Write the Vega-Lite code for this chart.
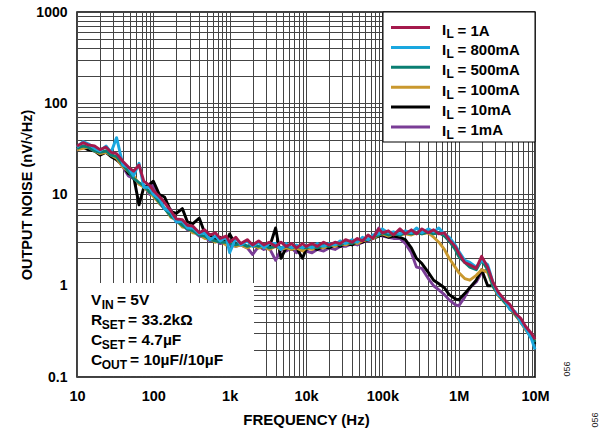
{
"$schema":"https://vega.github.io/schema/vega-lite/v6.json",
"width":458,"height":365,
"autosize":{"type":"none"},
"padding":{"left":77,"top":12,"right":73,"bottom":57},
"background":"white",
"config":{
 "view":{"stroke":"#000","strokeWidth":1.5},
 "font":"Liberation Sans",
 "legend":{"title":null,"padding":0,"symbolType":"M-4,-0.62H4","symbolSize":95,"symbolStrokeWidth":3,"labelFont":"Liberation Sans","labelFontSize":15,"labelFontWeight":"bold","labelColor":"#000","labelOffset":39.6,"rowPadding":1.9,"labelLimit":300}
},
"layer":[
 {"data":{"values":[{}]},"mark":{"type":"rect","fill":"white"},
  "encoding":{"x":{"datum":10.3,"type":"quantitative","scale":{"type":"log"},"axis":{"title":"FREQUENCY (Hz)"}},"x2":{"datum":2085},"y":{"datum":0.1026,"type":"quantitative","scale":{"type":"log"},"axis":{"title":"OUTPUT NOISE (nV/√Hz)"}},"y2":{"datum":1.07}}},
 {"data":{"values":[{}]},"mark":{"type":"rect","fill":"white","stroke":"#000","strokeWidth":1},
  "encoding":{"x":{"datum":102000,"type":"quantitative","scale":{"type":"log"},"axis":{"title":"FREQUENCY (Hz)"}},"x2":{"datum":10000000},"y":{"datum":37.6,"type":"quantitative","scale":{"type":"log"},"axis":{"title":"OUTPUT NOISE (nV/√Hz)"}},"y2":{"datum":1000}}},
 {"data":{"values":[
{"s":"1mA","f":10,"n":31},{"s":"1mA","f":12,"n":34},{"s":"1mA","f":14,"n":32},{"s":"1mA","f":17,"n":31},{"s":"1mA","f":20,"n":28},{"s":"1mA","f":24,"n":30},{"s":"1mA","f":28,"n":27},{"s":"1mA","f":33,"n":25},{"s":"1mA","f":40,"n":20},{"s":"1mA","f":47,"n":16},{"s":"1mA","f":55,"n":15},{"s":"1mA","f":65,"n":13},{"s":"1mA","f":75,"n":12.5},{"s":"1mA","f":90,"n":10},
{"s":"1mA","f":100,"n":13.5},{"s":"1mA","f":120,"n":8},{"s":"1mA","f":140,"n":7},{"s":"1mA","f":170,"n":6.8},{"s":"1mA","f":200,"n":5},{"s":"1mA","f":240,"n":4.7},{"s":"1mA","f":280,"n":4.1},{"s":"1mA","f":330,"n":4},{"s":"1mA","f":400,"n":3.5},{"s":"1mA","f":470,"n":3.4},{"s":"1mA","f":550,"n":3.1},{"s":"1mA","f":650,"n":3.2},{"s":"1mA","f":750,"n":2.9},{"s":"1mA","f":900,"n":3},
{"s":"1mA","f":1000,"n":2.8},{"s":"1mA","f":1200,"n":2.7},{"s":"1mA","f":1400,"n":2.8},{"s":"1mA","f":1700,"n":2.6},{"s":"1mA","f":2000,"n":2.2},{"s":"1mA","f":2400,"n":2.7},{"s":"1mA","f":2800,"n":2.5},{"s":"1mA","f":3300,"n":2.6},{"s":"1mA","f":4000,"n":1.9},{"s":"1mA","f":4700,"n":2.5},{"s":"1mA","f":5500,"n":2.4},{"s":"1mA","f":6500,"n":2.6},{"s":"1mA","f":7500,"n":2.3},{"s":"1mA","f":9000,"n":2.5},
{"s":"1mA","f":10000,"n":2.4},{"s":"1mA","f":12000,"n":2.3},{"s":"1mA","f":14000,"n":2.5},{"s":"1mA","f":17000,"n":2.4},{"s":"1mA","f":20000,"n":2.6},{"s":"1mA","f":24000,"n":2.5},{"s":"1mA","f":28000,"n":2.7},{"s":"1mA","f":33000,"n":2.7},{"s":"1mA","f":40000,"n":2.9},{"s":"1mA","f":47000,"n":2.8},{"s":"1mA","f":55000,"n":3},{"s":"1mA","f":65000,"n":3.1},{"s":"1mA","f":75000,"n":3.3},{"s":"1mA","f":90000,"n":4.3},
{"s":"1mA","f":100000,"n":3.5},{"s":"1mA","f":120000,"n":3.4},{"s":"1mA","f":140000,"n":3.3},{"s":"1mA","f":170000,"n":3.3},{"s":"1mA","f":200000,"n":2.9},{"s":"1mA","f":240000,"n":2.3},{"s":"1mA","f":280000,"n":1.6},{"s":"1mA","f":330000,"n":1.55},{"s":"1mA","f":400000,"n":1.2},{"s":"1mA","f":470000,"n":1},{"s":"1mA","f":550000,"n":0.9},{"s":"1mA","f":650000,"n":0.8},{"s":"1mA","f":750000,"n":0.7},{"s":"1mA","f":900000,"n":0.62},
{"s":"1mA","f":1000000,"n":0.6},{"s":"1mA","f":1200000,"n":0.75},{"s":"1mA","f":1400000,"n":0.95},{"s":"1mA","f":1700000,"n":1.1},{"s":"1mA","f":2000000,"n":1.4},{"s":"1mA","f":2400000,"n":1.5},{"s":"1mA","f":2800000,"n":1.05},{"s":"1mA","f":3300000,"n":0.82},{"s":"1mA","f":4000000,"n":0.67},{"s":"1mA","f":4700000,"n":0.57},{"s":"1mA","f":5500000,"n":0.48},{"s":"1mA","f":6500000,"n":0.41},{"s":"1mA","f":7500000,"n":0.34},{"s":"1mA","f":9000000,"n":0.27},{"s":"1mA","f":10000000,"n":0.24},
{"s":"10mA","f":10,"n":32},{"s":"10mA","f":12,"n":33},{"s":"10mA","f":14,"n":31},{"s":"10mA","f":17,"n":30},{"s":"10mA","f":20,"n":27},{"s":"10mA","f":24,"n":29},{"s":"10mA","f":28,"n":26},{"s":"10mA","f":33,"n":24},{"s":"10mA","f":40,"n":21},{"s":"10mA","f":47,"n":17},{"s":"10mA","f":55,"n":16},{"s":"10mA","f":65,"n":7.7},{"s":"10mA","f":75,"n":12},{"s":"10mA","f":90,"n":13},
{"s":"10mA","f":100,"n":14},{"s":"10mA","f":120,"n":10},{"s":"10mA","f":140,"n":9.4},{"s":"10mA","f":170,"n":6.5},{"s":"10mA","f":200,"n":6.2},{"s":"10mA","f":240,"n":7},{"s":"10mA","f":280,"n":5},{"s":"10mA","f":330,"n":4.8},{"s":"10mA","f":400,"n":5.5},{"s":"10mA","f":470,"n":3.8},{"s":"10mA","f":550,"n":3.6},{"s":"10mA","f":650,"n":3.2},{"s":"10mA","f":750,"n":3.4},{"s":"10mA","f":900,"n":3},
{"s":"10mA","f":1000,"n":3.7},{"s":"10mA","f":1200,"n":2.8},{"s":"10mA","f":1400,"n":2.9},{"s":"10mA","f":1700,"n":2.7},{"s":"10mA","f":2000,"n":2.8},{"s":"10mA","f":2400,"n":2.6},{"s":"10mA","f":2800,"n":2.7},{"s":"10mA","f":3300,"n":2.6},{"s":"10mA","f":4000,"n":4.3},{"s":"10mA","f":4700,"n":2},{"s":"10mA","f":5500,"n":2.6},{"s":"10mA","f":6500,"n":2.5},{"s":"10mA","f":7500,"n":2.6},{"s":"10mA","f":9000,"n":2},
{"s":"10mA","f":10000,"n":2.5},{"s":"10mA","f":12000,"n":2.6},{"s":"10mA","f":14000,"n":2.5},{"s":"10mA","f":17000,"n":2.7},{"s":"10mA","f":20000,"n":2.6},{"s":"10mA","f":24000,"n":2.8},{"s":"10mA","f":28000,"n":2.7},{"s":"10mA","f":33000,"n":2.9},{"s":"10mA","f":40000,"n":2.8},{"s":"10mA","f":47000,"n":3},{"s":"10mA","f":55000,"n":3},{"s":"10mA","f":65000,"n":3.2},{"s":"10mA","f":75000,"n":3.3},{"s":"10mA","f":90000,"n":3.5},
{"s":"10mA","f":100000,"n":3.6},{"s":"10mA","f":120000,"n":3.4},{"s":"10mA","f":140000,"n":3.5},{"s":"10mA","f":170000,"n":3.4},{"s":"10mA","f":200000,"n":3.2},{"s":"10mA","f":240000,"n":2.6},{"s":"10mA","f":280000,"n":2},{"s":"10mA","f":330000,"n":1.75},{"s":"10mA","f":400000,"n":1.4},{"s":"10mA","f":470000,"n":1.15},{"s":"10mA","f":550000,"n":1.05},{"s":"10mA","f":650000,"n":0.95},{"s":"10mA","f":750000,"n":0.8},{"s":"10mA","f":900000,"n":0.72},
{"s":"10mA","f":1000000,"n":0.7},{"s":"10mA","f":1200000,"n":0.82},{"s":"10mA","f":1400000,"n":0.95},{"s":"10mA","f":1700000,"n":1.15},{"s":"10mA","f":2000000,"n":1.5},{"s":"10mA","f":2400000,"n":1},{"s":"10mA","f":2800000,"n":1},{"s":"10mA","f":3300000,"n":0.8},{"s":"10mA","f":4000000,"n":0.68},{"s":"10mA","f":4700000,"n":0.56},{"s":"10mA","f":5500000,"n":0.49},{"s":"10mA","f":6500000,"n":0.4},{"s":"10mA","f":7500000,"n":0.34},{"s":"10mA","f":9000000,"n":0.27},{"s":"10mA","f":10000000,"n":0.23},
{"s":"100mA","f":10,"n":31},{"s":"100mA","f":12,"n":32},{"s":"100mA","f":14,"n":33},{"s":"100mA","f":17,"n":30},{"s":"100mA","f":20,"n":28},{"s":"100mA","f":24,"n":29},{"s":"100mA","f":28,"n":27},{"s":"100mA","f":33,"n":25},{"s":"100mA","f":40,"n":20},{"s":"100mA","f":47,"n":18},{"s":"100mA","f":55,"n":16},{"s":"100mA","f":65,"n":13},{"s":"100mA","f":75,"n":12},{"s":"100mA","f":90,"n":10.5},
{"s":"100mA","f":100,"n":9.5},{"s":"100mA","f":120,"n":8},{"s":"100mA","f":140,"n":7.2},{"s":"100mA","f":170,"n":5.6},{"s":"100mA","f":200,"n":5.3},{"s":"100mA","f":240,"n":4.4},{"s":"100mA","f":280,"n":4.3},{"s":"100mA","f":330,"n":3.8},{"s":"100mA","f":400,"n":3.7},{"s":"100mA","f":470,"n":3.3},{"s":"100mA","f":550,"n":3.3},{"s":"100mA","f":650,"n":3},{"s":"100mA","f":750,"n":3.1},{"s":"100mA","f":900,"n":2.8},
{"s":"100mA","f":1000,"n":3},{"s":"100mA","f":1200,"n":2.7},{"s":"100mA","f":1400,"n":2.8},{"s":"100mA","f":1700,"n":2.6},{"s":"100mA","f":2000,"n":2.8},{"s":"100mA","f":2400,"n":2.6},{"s":"100mA","f":2800,"n":2.7},{"s":"100mA","f":3300,"n":2.5},{"s":"100mA","f":4000,"n":2.7},{"s":"100mA","f":4700,"n":2.5},{"s":"100mA","f":5500,"n":2.6},{"s":"100mA","f":6500,"n":2.5},{"s":"100mA","f":7500,"n":2.6},{"s":"100mA","f":9000,"n":2.4},
{"s":"100mA","f":10000,"n":2.6},{"s":"100mA","f":12000,"n":2.5},{"s":"100mA","f":14000,"n":2.7},{"s":"100mA","f":17000,"n":2.6},{"s":"100mA","f":20000,"n":2.8},{"s":"100mA","f":24000,"n":2.7},{"s":"100mA","f":28000,"n":2.9},{"s":"100mA","f":33000,"n":2.8},{"s":"100mA","f":40000,"n":3},{"s":"100mA","f":47000,"n":2.9},{"s":"100mA","f":55000,"n":3.1},{"s":"100mA","f":65000,"n":3.2},{"s":"100mA","f":75000,"n":3.3},{"s":"100mA","f":90000,"n":3.6},
{"s":"100mA","f":100000,"n":3.7},{"s":"100mA","f":120000,"n":3.5},{"s":"100mA","f":140000,"n":3.7},{"s":"100mA","f":170000,"n":3.6},{"s":"100mA","f":200000,"n":3.7},{"s":"100mA","f":240000,"n":3.6},{"s":"100mA","f":280000,"n":3.8},{"s":"100mA","f":330000,"n":3.7},{"s":"100mA","f":400000,"n":3.8},{"s":"100mA","f":470000,"n":3.4},{"s":"100mA","f":550000,"n":3},{"s":"100mA","f":650000,"n":2.5},{"s":"100mA","f":750000,"n":2},{"s":"100mA","f":900000,"n":1.6},
{"s":"100mA","f":1000000,"n":1.4},{"s":"100mA","f":1200000,"n":1.2},{"s":"100mA","f":1400000,"n":1.15},{"s":"100mA","f":1700000,"n":1.3},{"s":"100mA","f":2000000,"n":1.5},{"s":"100mA","f":2400000,"n":1.4},{"s":"100mA","f":2800000,"n":1},{"s":"100mA","f":3300000,"n":0.78},{"s":"100mA","f":4000000,"n":0.66},{"s":"100mA","f":4700000,"n":0.56},{"s":"100mA","f":5500000,"n":0.48},{"s":"100mA","f":6500000,"n":0.4},{"s":"100mA","f":7500000,"n":0.33},{"s":"100mA","f":9000000,"n":0.27},{"s":"100mA","f":10000000,"n":0.25},
{"s":"500mA","f":10,"n":32},{"s":"500mA","f":12,"n":34},{"s":"500mA","f":14,"n":33},{"s":"500mA","f":17,"n":30},{"s":"500mA","f":20,"n":29},{"s":"500mA","f":24,"n":30},{"s":"500mA","f":28,"n":27},{"s":"500mA","f":33,"n":26},{"s":"500mA","f":40,"n":21},{"s":"500mA","f":47,"n":18},{"s":"500mA","f":55,"n":15},{"s":"500mA","f":65,"n":13.5},{"s":"500mA","f":75,"n":12.5},{"s":"500mA","f":90,"n":10.5},
{"s":"500mA","f":100,"n":10},{"s":"500mA","f":120,"n":8.2},{"s":"500mA","f":140,"n":7},{"s":"500mA","f":170,"n":5.8},{"s":"500mA","f":200,"n":5.2},{"s":"500mA","f":240,"n":4.6},{"s":"500mA","f":280,"n":4.2},{"s":"500mA","f":330,"n":4},{"s":"500mA","f":400,"n":3.6},{"s":"500mA","f":470,"n":3.5},{"s":"500mA","f":550,"n":3.2},{"s":"500mA","f":650,"n":3.1},{"s":"500mA","f":750,"n":3},{"s":"500mA","f":900,"n":3},
{"s":"500mA","f":1000,"n":2.9},{"s":"500mA","f":1200,"n":2.8},{"s":"500mA","f":1400,"n":2.9},{"s":"500mA","f":1700,"n":2.7},{"s":"500mA","f":2000,"n":2.8},{"s":"500mA","f":2400,"n":2.7},{"s":"500mA","f":2800,"n":2.8},{"s":"500mA","f":3300,"n":2.6},{"s":"500mA","f":4000,"n":2.7},{"s":"500mA","f":4700,"n":2.6},{"s":"500mA","f":5500,"n":2.7},{"s":"500mA","f":6500,"n":2.6},{"s":"500mA","f":7500,"n":2.7},{"s":"500mA","f":9000,"n":2.6},
{"s":"500mA","f":10000,"n":2.6},{"s":"500mA","f":12000,"n":2.7},{"s":"500mA","f":14000,"n":2.6},{"s":"500mA","f":17000,"n":2.8},{"s":"500mA","f":20000,"n":2.7},{"s":"500mA","f":24000,"n":2.9},{"s":"500mA","f":28000,"n":2.8},{"s":"500mA","f":33000,"n":3},{"s":"500mA","f":40000,"n":2.9},{"s":"500mA","f":47000,"n":3.1},{"s":"500mA","f":55000,"n":3.2},{"s":"500mA","f":65000,"n":3.2},{"s":"500mA","f":75000,"n":3.4},{"s":"500mA","f":90000,"n":3.6},
{"s":"500mA","f":100000,"n":3.8},{"s":"500mA","f":120000,"n":3.6},{"s":"500mA","f":140000,"n":3.7},{"s":"500mA","f":170000,"n":3.6},{"s":"500mA","f":200000,"n":3.8},{"s":"500mA","f":240000,"n":3.7},{"s":"500mA","f":280000,"n":3.8},{"s":"500mA","f":330000,"n":3.7},{"s":"500mA","f":400000,"n":3.9},{"s":"500mA","f":470000,"n":3.7},{"s":"500mA","f":550000,"n":3.8},{"s":"500mA","f":650000,"n":3.5},{"s":"500mA","f":750000,"n":3.1},{"s":"500mA","f":900000,"n":2.5},
{"s":"500mA","f":1000000,"n":2.1},{"s":"500mA","f":1200000,"n":1.8},{"s":"500mA","f":1400000,"n":1.6},{"s":"500mA","f":1700000,"n":1.5},{"s":"500mA","f":2000000,"n":1.9},{"s":"500mA","f":2400000,"n":1.5},{"s":"500mA","f":2800000,"n":1},{"s":"500mA","f":3300000,"n":0.8},{"s":"500mA","f":4000000,"n":0.66},{"s":"500mA","f":4700000,"n":0.57},{"s":"500mA","f":5500000,"n":0.49},{"s":"500mA","f":6500000,"n":0.41},{"s":"500mA","f":7500000,"n":0.35},{"s":"500mA","f":9000000,"n":0.28},{"s":"500mA","f":10000000,"n":0.24},
{"s":"800mA","f":10,"n":33},{"s":"800mA","f":12,"n":38},{"s":"800mA","f":14,"n":36},{"s":"800mA","f":17,"n":32},{"s":"800mA","f":20,"n":30},{"s":"800mA","f":24,"n":34},{"s":"800mA","f":28,"n":29},{"s":"800mA","f":33,"n":42},{"s":"800mA","f":40,"n":21},{"s":"800mA","f":47,"n":20},{"s":"800mA","f":55,"n":16},{"s":"800mA","f":65,"n":22},{"s":"800mA","f":75,"n":12},{"s":"800mA","f":90,"n":12},
{"s":"800mA","f":100,"n":10},{"s":"800mA","f":120,"n":9},{"s":"800mA","f":140,"n":7},{"s":"800mA","f":170,"n":6.4},{"s":"800mA","f":200,"n":5},{"s":"800mA","f":240,"n":5.1},{"s":"800mA","f":280,"n":4.3},{"s":"800mA","f":330,"n":4.3},{"s":"800mA","f":400,"n":3.7},{"s":"800mA","f":470,"n":3.8},{"s":"800mA","f":550,"n":3.2},{"s":"800mA","f":650,"n":3.5},{"s":"800mA","f":750,"n":3.1},{"s":"800mA","f":900,"n":3.4},
{"s":"800mA","f":1000,"n":2.3},{"s":"800mA","f":1200,"n":3.3},{"s":"800mA","f":1400,"n":2.8},{"s":"800mA","f":1700,"n":3.1},{"s":"800mA","f":2000,"n":2.7},{"s":"800mA","f":2400,"n":3},{"s":"800mA","f":2800,"n":2.6},{"s":"800mA","f":3300,"n":2.9},{"s":"800mA","f":4000,"n":2.9},{"s":"800mA","f":4700,"n":2.5},{"s":"800mA","f":5500,"n":2.9},{"s":"800mA","f":6500,"n":2.6},{"s":"800mA","f":7500,"n":2.8},{"s":"800mA","f":9000,"n":2.6},
{"s":"800mA","f":10000,"n":2.8},{"s":"800mA","f":12000,"n":2.6},{"s":"800mA","f":14000,"n":2.9},{"s":"800mA","f":17000,"n":2.7},{"s":"800mA","f":20000,"n":2.9},{"s":"800mA","f":24000,"n":2.8},{"s":"800mA","f":28000,"n":3.1},{"s":"800mA","f":33000,"n":2.9},{"s":"800mA","f":40000,"n":3.2},{"s":"800mA","f":47000,"n":3},{"s":"800mA","f":55000,"n":3.4},{"s":"800mA","f":65000,"n":3.2},{"s":"800mA","f":75000,"n":3.6},{"s":"800mA","f":90000,"n":3.7},
{"s":"800mA","f":100000,"n":4.2},{"s":"800mA","f":120000,"n":3.8},{"s":"800mA","f":140000,"n":3.9},{"s":"800mA","f":170000,"n":3.7},{"s":"800mA","f":200000,"n":4},{"s":"800mA","f":240000,"n":3.8},{"s":"800mA","f":280000,"n":4.3},{"s":"800mA","f":330000,"n":3.8},{"s":"800mA","f":400000,"n":4.2},{"s":"800mA","f":470000,"n":3.9},{"s":"800mA","f":550000,"n":4.3},{"s":"800mA","f":650000,"n":3.7},{"s":"800mA","f":750000,"n":3.4},{"s":"800mA","f":900000,"n":2.8},
{"s":"800mA","f":1000000,"n":2.4},{"s":"800mA","f":1200000,"n":1.9},{"s":"800mA","f":1400000,"n":1.8},{"s":"800mA","f":1700000,"n":1.6},{"s":"800mA","f":2000000,"n":1.9},{"s":"800mA","f":2400000,"n":1.7},{"s":"800mA","f":2800000,"n":1.1},{"s":"800mA","f":3300000,"n":0.8},{"s":"800mA","f":4000000,"n":0.7},{"s":"800mA","f":4700000,"n":0.55},{"s":"800mA","f":5500000,"n":0.52},{"s":"800mA","f":6500000,"n":0.4},{"s":"800mA","f":7500000,"n":0.34},{"s":"800mA","f":9000000,"n":0.26},{"s":"800mA","f":10000000,"n":0.2},
{"s":"1A","f":10,"n":34},{"s":"1A","f":12,"n":37},{"s":"1A","f":14,"n":35},{"s":"1A","f":17,"n":34},{"s":"1A","f":20,"n":31},{"s":"1A","f":24,"n":33},{"s":"1A","f":28,"n":29},{"s":"1A","f":33,"n":28},{"s":"1A","f":40,"n":23},{"s":"1A","f":47,"n":20},{"s":"1A","f":55,"n":18},{"s":"1A","f":65,"n":21},{"s":"1A","f":75,"n":14},{"s":"1A","f":90,"n":12.5},
{"s":"1A","f":100,"n":11},{"s":"1A","f":120,"n":9.5},{"s":"1A","f":140,"n":8.2},{"s":"1A","f":170,"n":6.6},{"s":"1A","f":200,"n":5.4},{"s":"1A","f":240,"n":5.3},{"s":"1A","f":280,"n":4.6},{"s":"1A","f":330,"n":4.5},{"s":"1A","f":400,"n":3.8},{"s":"1A","f":470,"n":4.1},{"s":"1A","f":550,"n":3.6},{"s":"1A","f":650,"n":3.8},{"s":"1A","f":750,"n":3.3},{"s":"1A","f":900,"n":3.5},
{"s":"1A","f":1000,"n":3},{"s":"1A","f":1200,"n":3.4},{"s":"1A","f":1400,"n":2.9},{"s":"1A","f":1700,"n":3.2},{"s":"1A","f":2000,"n":2.8},{"s":"1A","f":2400,"n":3.1},{"s":"1A","f":2800,"n":2.8},{"s":"1A","f":3300,"n":3},{"s":"1A","f":4000,"n":2.7},{"s":"1A","f":4700,"n":3},{"s":"1A","f":5500,"n":2.7},{"s":"1A","f":6500,"n":2.9},{"s":"1A","f":7500,"n":2.6},{"s":"1A","f":9000,"n":2.9},
{"s":"1A","f":10000,"n":2.7},{"s":"1A","f":12000,"n":2.9},{"s":"1A","f":14000,"n":2.7},{"s":"1A","f":17000,"n":3},{"s":"1A","f":20000,"n":2.8},{"s":"1A","f":24000,"n":3},{"s":"1A","f":28000,"n":2.9},{"s":"1A","f":33000,"n":3.2},{"s":"1A","f":40000,"n":3},{"s":"1A","f":47000,"n":3.3},{"s":"1A","f":55000,"n":3.1},{"s":"1A","f":65000,"n":3.6},{"s":"1A","f":75000,"n":3.3},{"s":"1A","f":90000,"n":4.2},
{"s":"1A","f":100000,"n":3.8},{"s":"1A","f":120000,"n":4},{"s":"1A","f":140000,"n":3.6},{"s":"1A","f":170000,"n":4.2},{"s":"1A","f":200000,"n":3.7},{"s":"1A","f":240000,"n":4.1},{"s":"1A","f":280000,"n":3.7},{"s":"1A","f":330000,"n":4.2},{"s":"1A","f":400000,"n":3.8},{"s":"1A","f":470000,"n":4.1},{"s":"1A","f":550000,"n":3.7},{"s":"1A","f":650000,"n":3.8},{"s":"1A","f":750000,"n":3.2},{"s":"1A","f":900000,"n":2.7},
{"s":"1A","f":1000000,"n":2.3},{"s":"1A","f":1200000,"n":1.8},{"s":"1A","f":1400000,"n":1.7},{"s":"1A","f":1700000,"n":1.55},{"s":"1A","f":2000000,"n":2.1},{"s":"1A","f":2400000,"n":1.6},{"s":"1A","f":2800000,"n":1.1},{"s":"1A","f":3300000,"n":0.85},{"s":"1A","f":4000000,"n":0.7},{"s":"1A","f":4700000,"n":0.62},{"s":"1A","f":5500000,"n":0.5},{"s":"1A","f":6500000,"n":0.44},{"s":"1A","f":7500000,"n":0.36},{"s":"1A","f":9000000,"n":0.3},{"s":"1A","f":10000000,"n":0.26}
 ]},
  "mark":{"type":"line","strokeWidth":2.9,"strokeJoin":"round"},
  "encoding":{
   "x":{"field":"f","type":"quantitative","scale":{"type":"log","domain":[10,10000000]},
    "axis":{"values":[10,20,30,40,50,60,70,80,90,100,200,300,400,500,600,700,800,900,1000,2000,3000,4000,5000,6000,7000,8000,9000,10000,20000,30000,40000,50000,60000,70000,80000,90000,100000,200000,300000,400000,500000,600000,700000,800000,900000,1000000,2000000,3000000,4000000,5000000,6000000,7000000,8000000,9000000,10000000],
     "labelExpr":"datum.value==10?'10':datum.value==100?'100':datum.value==1000?'1k':datum.value==10000?'10k':datum.value==100000?'100k':datum.value==1000000?'1M':datum.value==10000000?'10M':''",
     "title":"FREQUENCY (Hz)","grid":true,"gridColor":"#444","gridOpacity":1,"gridWidth":1,"ticks":false,"domain":false,
     "labelPadding":12,"labelFont":"Liberation Sans","labelFontSize":14.5,"labelFontWeight":"bold","labelColor":"#000","labelOverlap":false,"labelFlush":false,"labelBound":false,
     "titleFont":"Liberation Sans","titleFontSize":15,"titleFontWeight":"bold","titleColor":"#000","titlePadding":10}},
   "y":{"field":"n","type":"quantitative","scale":{"type":"log","domain":[0.1,1000]},
    "axis":{"values":[0.1,0.2,0.3,0.4,0.5,0.6,0.7,0.8,0.9,1,2,3,4,5,6,7,8,9,10,20,30,40,50,60,70,80,90,100,200,300,400,500,600,700,800,900,1000],
     "labelExpr":"datum.value==0.1?'0.1':datum.value==1?'1':datum.value==10?'10':datum.value==100?'100':datum.value==1000?'1000':''",
     "title":"OUTPUT NOISE (nV/√Hz)","grid":true,"gridColor":"#444","gridOpacity":1,"gridWidth":1,"ticks":false,"domain":false,
     "labelPadding":10,"labelFont":"Liberation Sans","labelFontSize":14,"labelFontWeight":"bold","labelColor":"#000","labelOverlap":false,"labelFlush":false,"labelBound":false,
     "titleFont":"Liberation Sans","titleFontSize":14.5,"titleFontWeight":"bold","titleColor":"#000","titlePadding":1}},
   "color":{"field":"s","type":"nominal","scale":{"domain":["1A","800mA","500mA","100mA","10mA","1mA"],"range":["#A4194C","#1AA7DF","#0A7E72","#C9982E","#000000","#7A3D96"]},
    "legend":{"orient":"none","legendX":326,"legendY":11,"labelExpr":"'= ' + datum.label"}}
  }},
 {"data":{"values":[{}]},"mark":{"type":"text","text":["I","I","I","I","I","I"],"font":"Liberation Sans","fontSize":15,"fontWeight":"bold","align":"left","baseline":"alphabetic","lineHeight":20.2,"color":"#000"},
  "encoding":{"x":{"datum":605000,"type":"quantitative","scale":{"type":"log"},"axis":{"title":"FREQUENCY (Hz)"}},"y":{"datum":559.7,"type":"quantitative","scale":{"type":"log"},"axis":{"title":"OUTPUT NOISE (nV/√Hz)"}}}},
 {"data":{"values":[{}]},"mark":{"type":"text","text":["L","L","L","L","L","L"],"font":"Liberation Sans","fontSize":12,"fontWeight":"bold","align":"left","baseline":"alphabetic","lineHeight":20.2,"color":"#000"},
  "encoding":{"x":{"datum":693000,"type":"quantitative","scale":{"type":"log"},"axis":{"title":"FREQUENCY (Hz)"}},"y":{"datum":518.8,"type":"quantitative","scale":{"type":"log"},"axis":{"title":"OUTPUT NOISE (nV/√Hz)"}}}},
 {"data":{"values":[{}]},"mark":{"type":"text","text":["V","R","C","C"],"font":"Liberation Sans","fontSize":15.5,"fontWeight":"bold","align":"left","baseline":"alphabetic","lineHeight":20,"color":"#000"},
  "encoding":{"x":{"datum":15.26,"type":"quantitative","scale":{"type":"log"},"axis":{"title":"FREQUENCY (Hz)"}},"y":{"datum":0.615,"type":"quantitative","scale":{"type":"log"},"axis":{"title":"OUTPUT NOISE (nV/√Hz)"}}}},
 {"data":{"values":[{}]},"mark":{"type":"text","text":["IN","SET","SET","OUT"],"font":"Liberation Sans","fontSize":12,"fontWeight":"bold","align":"left","baseline":"alphabetic","lineHeight":20,"color":"#000"},
  "encoding":{"x":{"datum":21.1,"type":"quantitative","scale":{"type":"log"},"axis":{"title":"FREQUENCY (Hz)"}},"y":{"datum":0.556,"type":"quantitative","scale":{"type":"log"},"axis":{"title":"OUTPUT NOISE (nV/√Hz)"}}}},
 {"data":{"values":[{}]},"mark":{"type":"text","text":"= 5V","font":"Liberation Sans","fontSize":15.5,"fontWeight":"bold","align":"left","baseline":"alphabetic","color":"#000"},
  "encoding":{"x":{"datum":33.4,"type":"quantitative","scale":{"type":"log"},"axis":{"title":"FREQUENCY (Hz)"}},"y":{"datum":0.615,"type":"quantitative","scale":{"type":"log"},"axis":{"title":"OUTPUT NOISE (nV/√Hz)"}}}},
 {"data":{"values":[{}]},"mark":{"type":"text","text":["= 33.2kΩ","= 4.7µF"],"font":"Liberation Sans","fontSize":15.5,"fontWeight":"bold","align":"left","baseline":"alphabetic","lineHeight":20,"color":"#000"},
  "encoding":{"x":{"datum":46.6,"type":"quantitative","scale":{"type":"log"},"axis":{"title":"FREQUENCY (Hz)"}},"y":{"datum":0.3715,"type":"quantitative","scale":{"type":"log"},"axis":{"title":"OUTPUT NOISE (nV/√Hz)"}}}},
 {"data":{"values":[{}]},"mark":{"type":"text","text":"= 10µF//10µF","font":"Liberation Sans","fontSize":15.5,"fontWeight":"bold","align":"left","baseline":"alphabetic","color":"#000"},
  "encoding":{"x":{"datum":49.5,"type":"quantitative","scale":{"type":"log"},"axis":{"title":"FREQUENCY (Hz)"}},"y":{"datum":0.1354,"type":"quantitative","scale":{"type":"log"},"axis":{"title":"OUTPUT NOISE (nV/√Hz)"}}}},
 {"data":{"values":[{}]},"mark":{"type":"text","text":"056","font":"Liberation Sans","fontSize":9,"angle":270,"align":"center","baseline":"middle","color":"#222"},
  "encoding":{"x":{"datum":26000000,"type":"quantitative","scale":{"type":"log"},"axis":{"title":"FREQUENCY (Hz)"}},"y":{"datum":0.1225,"type":"quantitative","scale":{"type":"log"},"axis":{"title":"OUTPUT NOISE (nV/√Hz)"}}}},
 {"data":{"values":[{}]},"mark":{"type":"text","text":"056","font":"Liberation Sans","fontSize":9,"angle":270,"align":"center","baseline":"middle","color":"#222"},
  "encoding":{"x":{"datum":61000000,"type":"quantitative","scale":{"type":"log"},"axis":{"title":"FREQUENCY (Hz)"}},"y":{"datum":0.0338,"type":"quantitative","scale":{"type":"log"},"axis":{"title":"OUTPUT NOISE (nV/√Hz)"}}}}
]
}
